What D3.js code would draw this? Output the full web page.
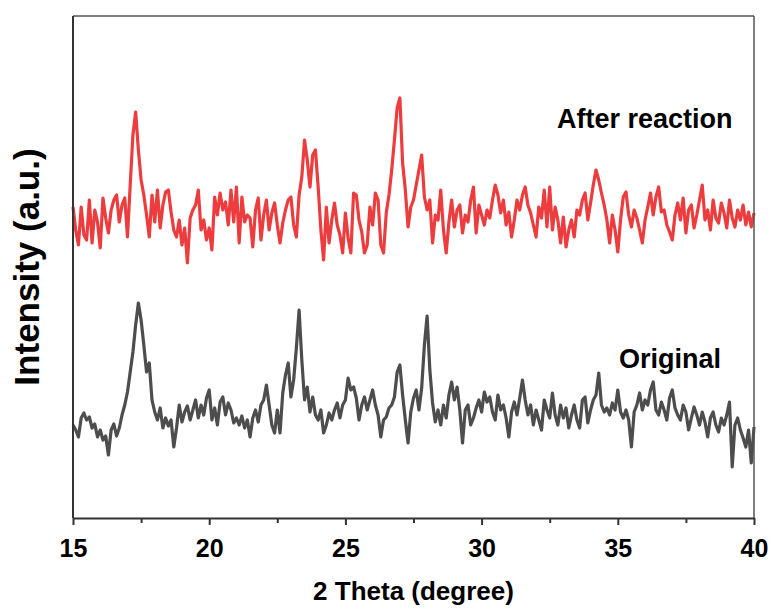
<!DOCTYPE html>
<html>
<head>
<meta charset="utf-8">
<script src="https://cdn.jsdelivr.net/npm/d3@7"></script>
<style>
  body { margin: 0; background: #fff; }
  text { font-family: "Liberation Sans", Arial, sans-serif; font-weight: bold; fill: #000; }
</style>
</head>
<body>
<div id="chart"></div>
<script>
// 2 theta from 15 to 40, step 0.1
var thetaStart = 15, thetaStep = 0.1;
var xTicks = [15, 20, 25, 30, 35, 40];
var xMinorTicks = [17.5, 22.5, 27.5, 32.5, 37.5];

// intensities (a.u., curves already stacked)
var original = [
  175,170,163,182,187,180,183,172,176,163,
  170,160,164,145,170,176,164,172,185,195,
  208,228,248,275,297,280,255,228,237,200,
  188,180,192,172,182,174,180,153,172,195,
  178,188,194,180,190,200,182,195,185,202,
  210,180,192,175,198,203,185,197,190,177,
  182,175,184,172,180,163,182,190,178,195,
  200,215,195,175,167,190,167,207,225,237,
  203,220,252,290,240,200,213,188,203,185,
  180,190,167,175,187,180,190,197,182,195,
  200,222,210,213,202,180,195,203,190,200,
  210,195,185,163,180,183,192,195,203,228,
  235,205,180,157,188,202,210,190,212,255,
  284,230,197,178,190,175,195,182,205,218,
  200,213,190,157,190,195,175,182,192,200,
  188,208,198,203,188,180,205,190,195,182,
  163,188,198,185,202,220,200,185,195,175,
  190,180,170,200,190,182,207,185,175,195,
  182,192,172,185,195,180,172,200,203,177,
  190,200,205,227,195,188,192,185,197,190,
  210,188,182,190,180,153,188,195,207,190,
  200,195,210,218,190,185,198,190,180,202,
  210,192,185,180,195,188,170,182,193,185,
  175,188,178,163,182,188,175,168,182,175,
  185,198,133,175,182,170,162,153,170,137,
  173
];

var afterReaction = [
  393,370,355,393,365,360,400,357,390,378,
  352,402,382,367,390,400,405,378,395,402,
  363,415,465,488,450,420,405,385,363,405,
  378,410,372,395,408,410,388,370,363,380,
  355,372,337,382,390,395,410,370,380,360,
  372,350,403,385,407,390,398,375,410,378,
  413,357,403,378,385,382,353,390,402,360,
  385,400,370,387,397,375,357,377,390,400,
  403,375,363,405,423,460,440,413,445,450,
  413,370,340,393,357,380,397,375,365,347,
  387,362,347,407,405,380,368,347,355,393,
  375,407,400,355,347,387,405,430,460,492,
  502,437,410,373,393,400,415,430,445,403,
  390,400,357,385,380,410,370,347,378,400,
  373,390,395,367,385,378,400,413,367,395,
  385,375,390,382,400,415,405,387,400,375,
  388,363,380,400,390,405,413,395,387,375,
  363,393,382,410,373,413,370,393,380,357,
  383,353,370,380,363,390,385,400,407,380,
  397,415,430,420,407,395,380,357,385,370,
  348,380,403,408,385,373,390,382,370,357,
  380,393,407,385,403,413,388,390,375,368,
  360,385,397,380,402,367,390,395,372,385,
  400,415,380,390,370,400,382,377,397,387,
  372,400,382,373,390,380,395,375,388,373,
  387
];

var seriesNames = ["After reaction", "Original"];
var seriesColors = ["#ec3c3e", "#4d4d4d"];

var width = 773, height = 610;
var margin = {top: 16, right: 19, bottom: 92, left: 73};
var w = width - margin.left - margin.right;
var h = height - margin.top - margin.bottom;

var svg = d3.select("#chart").append("svg")
    .attr("width", width)
    .attr("height", height);

var g = svg.append("g")
    .attr("transform", "translate(" + margin.left + "," + margin.top + ")");

var x = d3.scaleLinear().domain([15, 40]).range([0, w]);
var y = d3.scaleLinear().domain([82, 584]).range([h, 0]);

function toPoints(arr) {
    return arr.map(function(v, i) { return [thetaStart + i * thetaStep, v]; });
}

var line = d3.line()
    .x(function(d) { return x(d[0]); })
    .y(function(d) { return y(d[1]); });

var allSeries = [toPoints(afterReaction), toPoints(original)];

g.selectAll("path.series")
    .data(allSeries)
    .enter()
    .append("path")
    .attr("class", "series")
    .attr("d", line)
    .attr("fill", "none")
    .attr("stroke", function(d, i) { return seriesColors[i]; })
    .attr("stroke-width", 3.2)
    .attr("stroke-linejoin", "round");

// frame: top and right thinner
g.append("line").attr("x1", 0).attr("x2", w).attr("y1", 0).attr("y2", 0)
    .attr("stroke", "#555").attr("stroke-width", 1.5);
g.append("line").attr("x1", w).attr("x2", w).attr("y1", 0).attr("y2", h)
    .attr("stroke", "#555").attr("stroke-width", 1.5);
g.append("line").attr("x1", 0).attr("x2", 0).attr("y1", 0).attr("y2", h)
    .attr("stroke", "#333").attr("stroke-width", 2);

// minor ticks
var minorAxis = g.append("g")
    .attr("transform", "translate(0," + h + ")")
    .call(d3.axisBottom(x).tickValues(xMinorTicks).tickSize(5).tickFormat(""));
minorAxis.select(".domain").remove();

var xAxis = g.append("g")
    .attr("transform", "translate(0," + h + ")")
    .call(d3.axisBottom(x).tickValues(xTicks).tickSize(7).tickSizeOuter(0).tickPadding(14));

svg.selectAll(".tick line").attr("stroke", "#333").attr("stroke-width", 2);
xAxis.select(".domain").attr("stroke", "#333").attr("stroke-width", 2);
xAxis.selectAll("text")
    .attr("font-size", 25)
    .attr("font-family", "Liberation Sans, Arial, sans-serif")
    .attr("font-weight", "bold")
    .attr("fill", "#000");

// axis titles
svg.append("text")
    .attr("x", margin.left + w / 2)
    .attr("y", 600)
    .attr("text-anchor", "middle")
    .attr("font-size", 26)
    .text("2 Theta (degree)");

svg.append("text")
    .attr("transform", "translate(39," + 267 + ") rotate(-90)")
    .attr("text-anchor", "middle")
    .attr("font-size", 35)
    .text("Intensity (a.u.)");

// series labels
svg.append("text")
    .attr("x", 557).attr("y", 128)
    .attr("font-size", 27)
    .text(seriesNames[0]);

svg.append("text")
    .attr("x", 619).attr("y", 368)
    .attr("font-size", 27)
    .text(seriesNames[1]);
</script>
</body>
</html>
